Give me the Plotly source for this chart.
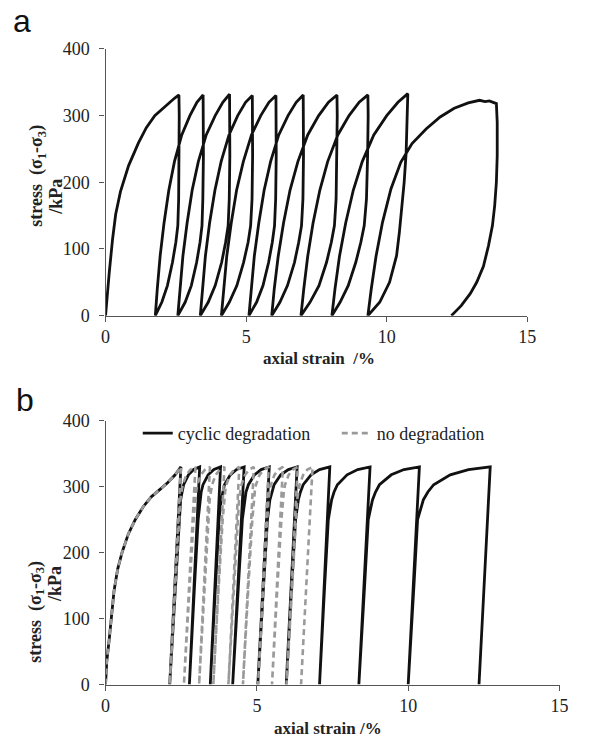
import plotly.graph_objects as go

# ---------------- Panel a: cyclic test, stress-strain path ----------------
a_strain = [
    0, 0.05, 0.13, 0.25, 0.36, 0.53, 0.82, 1.17, 1.45, 1.75, 2.0, 2.21, 2.45, 2.61,
    2.62, 2.62, 2.6, 2.57, 2.5, 2.38, 2.2, 2.0, 1.77,
    1.84, 1.94, 2.08, 2.25, 2.45, 2.71, 3.0, 3.25, 3.47,
    3.48, 3.48, 3.46, 3.43, 3.36, 3.24, 3.05, 2.83, 2.57,
    2.65, 2.75, 2.9, 3.08, 3.3, 3.58, 3.9, 4.17, 4.41,
    4.42, 4.42, 4.4, 4.36, 4.27, 4.13, 3.9, 3.65, 3.37,
    3.45, 3.55, 3.7, 3.89, 4.11, 4.39, 4.7, 4.98, 5.22,
    5.23, 5.23, 5.21, 5.16, 5.07, 4.91, 4.67, 4.4, 4.12,
    4.2, 4.31, 4.47, 4.66, 4.9, 5.19, 5.52, 5.81, 6.06,
    6.07, 6.07, 6.05, 6.01, 5.93, 5.8, 5.6, 5.37, 5.10,
    5.18, 5.29, 5.45, 5.64, 5.87, 6.16, 6.49, 6.78, 7.03,
    7.04, 7.04, 7.02, 6.97, 6.87, 6.72, 6.47, 6.2, 5.91,
    6.0, 6.14, 6.33, 6.56, 6.84, 7.19, 7.58, 7.93, 8.23,
    8.24, 8.23, 8.2, 8.14, 8.03, 7.86, 7.59, 7.27, 6.95,
    7.05, 7.19, 7.38, 7.62, 7.9, 8.26, 8.66, 9.02, 9.33,
    9.34, 9.32, 9.28, 9.2, 9.08, 8.9, 8.63, 8.34, 8.05,
    8.16, 8.32, 8.54, 8.81, 9.13, 9.54, 10.0, 10.4, 10.75,
    10.73, 10.69, 10.62, 10.54, 10.45, 10.35, 10.1, 9.75, 9.33,
    9.45, 9.62, 9.85, 10.15, 10.5, 10.9, 11.4, 11.9, 12.4, 12.9, 13.3, 13.5, 13.65, 13.8, 13.9,
    13.93, 13.93, 13.9, 13.84, 13.76, 13.62, 13.44, 13.2, 12.97, 12.65, 12.3,
]
a_stress = [
    0, 30, 64, 115, 152, 186, 225, 259, 282, 300, 310, 317, 326, 331,
    300, 240, 175, 135, 110, 80, 45, 20, 0,
    40, 89, 139, 188, 231, 271, 300, 320, 331,
    300, 240, 175, 135, 110, 80, 45, 20, 0,
    40, 89, 139, 188, 231, 271, 300, 320, 332,
    300, 240, 175, 135, 110, 80, 45, 20, 0,
    40, 89, 139, 188, 231, 271, 300, 320, 330,
    300, 240, 175, 135, 110, 80, 45, 20, 0,
    40, 89, 139, 188, 231, 271, 300, 320, 330,
    300, 240, 175, 135, 110, 80, 45, 20, 0,
    40, 89, 139, 188, 231, 271, 300, 320, 331,
    300, 240, 175, 135, 110, 80, 45, 20, 0,
    40, 89, 139, 188, 231, 271, 300, 320, 331,
    300, 240, 175, 135, 110, 80, 45, 20, 0,
    40, 89, 139, 188, 231, 271, 300, 320, 331,
    300, 240, 175, 135, 110, 80, 45, 20, 0,
    40, 89, 139, 188, 231, 271, 300, 320, 333,
    290, 244, 200, 162, 125, 90, 50, 20, 0,
    40, 89, 140, 190, 230, 258, 280, 298, 311, 319, 323, 321, 322, 320, 318,
    290, 240, 200, 165, 135, 105, 74, 50, 33, 15, 0,
]

# ---------------- Panel b: model, cyclic degradation ----------------
b_cyc_strain = [
    0, 0.04, 0.12, 0.2, 0.28, 0.4, 0.55, 0.75, 0.98, 1.25, 1.52, 1.8, 2.05, 2.3, 2.49, 2.12,
    2.30, 2.43, 2.48, 2.53, 2.58, 2.74, 2.91, 3.11, 2.77,
    2.94, 3.06, 3.12, 3.16, 3.22, 3.39, 3.58, 3.80, 3.46,
    3.63, 3.75, 3.82, 3.87, 3.93, 4.12, 4.33, 4.58, 4.20,
    4.39, 4.52, 4.59, 4.64, 4.72, 4.92, 5.14, 5.41, 5.03,
    5.22, 5.35, 5.43, 5.49, 5.57, 5.79, 6.04, 6.33, 5.97,
    6.15, 6.28, 6.37, 6.44, 6.53, 6.79, 7.07, 7.41, 7.07,
    7.24, 7.36, 7.47, 7.55, 7.66, 7.98, 8.33, 8.74, 8.37,
    8.56, 8.68, 8.82, 8.92, 9.05, 9.44, 9.86, 10.37, 10.0,
    10.19, 10.31, 10.5, 10.65, 10.84, 11.39, 11.99, 12.71, 12.34,
]
b_cyc_stress = [
    0, 35, 68, 105, 142, 175, 201, 228, 250, 270, 285, 296, 306, 318, 330, 0,
    150, 250, 280, 292, 303, 318, 326, 330, 0,
    150, 250, 280, 292, 303, 318, 326, 330, 0,
    150, 250, 280, 292, 303, 318, 326, 330, 0,
    150, 250, 280, 292, 303, 318, 326, 330, 0,
    150, 250, 280, 292, 303, 318, 326, 330, 0,
    150, 250, 280, 292, 303, 318, 326, 330, 0,
    150, 250, 280, 292, 303, 318, 326, 330, 0,
    150, 250, 280, 292, 303, 318, 326, 330, 0,
    150, 250, 280, 292, 303, 318, 326, 330, 0,
]

# ---------------- Panel b: model, no degradation ----------------
b_nodeg_strain = [
    0, 0.04, 0.12, 0.2, 0.28, 0.4, 0.55, 0.75, 0.98, 1.25, 1.52, 1.8, 2.05, 2.3, 2.49, 2.12,
    2.30, 2.43, 2.47, 2.51, 2.55, 2.67, 2.81, 2.97, 2.59,
    2.78, 2.91, 2.95, 2.99, 3.03, 3.15, 3.29, 3.45, 3.09,
    3.27, 3.40, 3.44, 3.48, 3.52, 3.64, 3.78, 3.93, 3.56,
    3.74, 3.87, 3.91, 3.95, 3.99, 4.11, 4.25, 4.42, 4.06,
    4.24, 4.37, 4.41, 4.45, 4.49, 4.61, 4.75, 4.90, 4.54,
    4.72, 4.85, 4.89, 4.93, 4.97, 5.09, 5.23, 5.39, 5.04,
    5.21, 5.34, 5.38, 5.42, 5.46, 5.58, 5.72, 5.86, 5.50,
    5.68, 5.81, 5.85, 5.89, 5.93, 6.05, 6.19, 6.35, 5.98,
    6.16, 6.29, 6.33, 6.37, 6.41, 6.53, 6.67, 6.84, 6.46,
]
b_nodeg_stress = [
    0, 35, 68, 105, 142, 175, 201, 228, 250, 270, 285, 296, 306, 318, 330, 0,
    150, 250, 280, 292, 303, 318, 326, 330, 0,
    150, 250, 280, 292, 303, 318, 326, 330, 0,
    150, 250, 280, 292, 303, 318, 326, 330, 0,
    150, 250, 280, 292, 303, 318, 326, 330, 0,
    150, 250, 280, 292, 303, 318, 326, 330, 0,
    150, 250, 280, 292, 303, 318, 326, 330, 0,
    150, 250, 280, 292, 303, 318, 326, 330, 0,
    150, 250, 280, 292, 303, 318, 326, 330, 0,
    150, 250, 280, 292, 303, 318, 326, 330, 0,
]

x_ticks = [0, 5, 10, 15]
y_ticks = [0, 100, 200, 300, 400]

W, H = 590, 750
def px(x):
    return x / W
def py(y):
    return 1 - y / H

SERIF = "Liberation Serif"
SANS = "Liberation Sans"
AXC = "#555555"
TXT = "#222222"

fig = go.Figure()
fig.add_trace(go.Scatter(x=a_strain, y=a_stress, mode="lines",
                         line=dict(color="#111111", width=2.8),
                         xaxis="x", yaxis="y", showlegend=False))
fig.add_trace(go.Scatter(x=b_cyc_strain, y=b_cyc_stress, mode="lines",
                         name="cyclic degradation",
                         line=dict(color="#111111", width=2.8),
                         xaxis="x2", yaxis="y2"))
fig.add_trace(go.Scatter(x=b_nodeg_strain, y=b_nodeg_stress, mode="lines",
                         name="no degradation",
                         line=dict(color="#9a9a9a", width=2.6, dash="6px,4px"),
                         xaxis="x2", yaxis="y2"))

def axis_common(standoff):
    return dict(showline=True, linecolor=AXC, linewidth=1.2, ticks="outside",
                ticklen=5, tickcolor=AXC, tickwidth=1.2, showgrid=False,
                zeroline=False, ticklabelstandoff=standoff,
                tickfont=dict(family=SERIF, size=18, color=TXT))

fig.update_layout(
    width=W, height=H, margin=dict(l=0, r=0, t=0, b=0),
    paper_bgcolor="white", plot_bgcolor="white",
    xaxis=dict(domain=[px(103), px(535)], range=[0, 15], tickvals=x_ticks,
               anchor="y", **axis_common(0)),
    yaxis=dict(domain=[py(314), py(40)], range=[0, 400], tickvals=y_ticks,
               anchor="x", **axis_common(6)),
    xaxis2=dict(domain=[px(103), px(568)], range=[0, 15], tickvals=x_ticks,
                anchor="y2", **axis_common(0)),
    yaxis2=dict(domain=[py(693), py(422)], range=[0, 400], tickvals=y_ticks,
                anchor="x2", **axis_common(6)),
    showlegend=True,
    legend=dict(orientation="h", x=px(136), y=py(435), xanchor="left", yanchor="middle",
                font=dict(family=SERIF, size=18, color=TXT), bgcolor="rgba(0,0,0,0)",
                entrywidth=154, entrywidthmode="pixels", itemwidth=30),
)

y_line1 = "<b>stress  (σ<sub>1</sub>-σ<sub>3</sub>)</b>"
y_line2 = "<b>/kPa</b>"
annots = [
    dict(text="a", x=px(17), y=py(11), font=dict(family=SANS, size=32, color="#111")),
    dict(text="b", x=px(20), y=py(401), font=dict(family=SANS, size=32, color="#111")),
    dict(text=y_line1, x=px(33), y=py(170), textangle=-90,
         font=dict(family=SERIF, size=18, color=TXT)),
    dict(text=y_line2, x=px(52), y=py(192), textangle=-90,
         font=dict(family=SERIF, size=18, color=TXT)),
    dict(text=y_line1, x=px(32), y=py(618), textangle=-90,
         font=dict(family=SERIF, size=18, color=TXT)),
    dict(text=y_line2, x=px(51), y=py(590), textangle=-90,
         font=dict(family=SERIF, size=18, color=TXT)),
    dict(text="<b>axial strain  /%</b>", x=px(322), y=py(358),
         font=dict(family=SERIF, size=17, color=TXT)),
    dict(text="<b>axial strain /%</b>", x=px(331), y=py(738),
         font=dict(family=SERIF, size=17, color=TXT)),
]
for a in annots:
    fig.add_annotation(xref="paper", yref="paper", showarrow=False,
                       xanchor="center", yanchor="middle", **a)

fig.write_html("out.html")
